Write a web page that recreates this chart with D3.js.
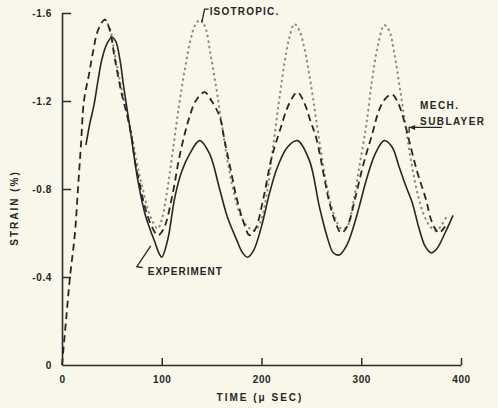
<!DOCTYPE html>
<html><head><meta charset="utf-8">
<script src="https://cdn.jsdelivr.net/npm/d3@7"></script>
<style>
body{margin:0;background:#f8f7ea;}
svg{display:block;}
text{font-family:"Liberation Sans",Arial,sans-serif;font-weight:bold;fill:#262626;}
</style></head>
<body><svg id="c" width="498" height="408"></svg>
<script>
// ---- data (time in µs, strain in %) ----
const expTime   = [24,28,32,36,40,45,50,54,58,62,66,70,76,83,88,93,97,100,106,113,120,128,138,148,158,166,175,181,186,192,200,208,216,226,236,248,258,266,272,278,285,291,298,305,314,323,331,338,345,351,358,364,370,376,384,392];
const expStrain = [-1.00,-1.10,-1.18,-1.29,-1.39,-1.46,-1.49,-1.47,-1.39,-1.26,-1.14,-1.02,-0.84,-0.69,-0.62,-0.56,-0.51,-0.49,-0.57,-0.76,-0.88,-0.96,-1.02,-0.96,-0.80,-0.67,-0.57,-0.51,-0.49,-0.52,-0.63,-0.78,-0.90,-0.99,-1.02,-0.93,-0.72,-0.58,-0.51,-0.50,-0.54,-0.61,-0.72,-0.84,-0.96,-1.02,-0.99,-0.90,-0.81,-0.74,-0.62,-0.54,-0.51,-0.53,-0.60,-0.68];

const mechTime   = [0,4,8,13,16,19,22,27,31,36,43,48,53,60,66,70,73,78,83,89,96,102,111,117,123,128,134,143,150,158,163,169,175,182,188,194,202,210,218,228,236,243,249,255,263,268,274,280,286,294,302,311,318,324,331,337,343,348,356,365,370,374,378,384];
const mechStrain = [0,-0.20,-0.40,-0.60,-0.80,-1.00,-1.20,-1.32,-1.42,-1.52,-1.57,-1.52,-1.39,-1.23,-1.12,-1.03,-0.93,-0.82,-0.72,-0.64,-0.59,-0.62,-0.78,-0.93,-1.05,-1.13,-1.20,-1.24,-1.20,-1.13,-1.02,-0.89,-0.76,-0.65,-0.59,-0.62,-0.76,-0.94,-1.06,-1.19,-1.24,-1.19,-1.11,-1.03,-0.85,-0.74,-0.65,-0.60,-0.63,-0.76,-0.91,-1.05,-1.16,-1.21,-1.23,-1.19,-1.11,-1.02,-0.88,-0.75,-0.66,-0.62,-0.60,-0.63];

// isotropic drawn from the first peak on (it lies under the dashed curve before that)
const isoTime   = [43,48,53,60,66,71,76,81,86,91,96,100,105,111,117,123,129,134,139,144,149,155,161,167,173,179,186,193,199,205,211,217,223,228,233,238,243,249,255,261,267,273,280,286,292,298,305,311,317,323,328,333,339,345,351,357,363,369,375,381,386];
const isoStrain = [-1.57,-1.53,-1.41,-1.25,-1.13,-1.02,-0.90,-0.80,-0.71,-0.65,-0.62,-0.66,-0.78,-0.97,-1.17,-1.34,-1.48,-1.55,-1.57,-1.53,-1.41,-1.25,-1.07,-0.90,-0.77,-0.68,-0.63,-0.61,-0.65,-0.77,-0.97,-1.18,-1.37,-1.49,-1.55,-1.52,-1.44,-1.29,-1.11,-0.93,-0.78,-0.68,-0.62,-0.63,-0.74,-0.90,-1.09,-1.30,-1.46,-1.545,-1.52,-1.42,-1.25,-1.07,-0.90,-0.77,-0.68,-0.63,-0.61,-0.64,-0.68];

const xTicks = [0,100,200,300,400];
const yTicks = [0,-0.4,-0.8,-1.2,-1.6];
const yTickLabels = ["0","-0.4","-0.8","-1.2","-1.6"];

// ---- chart ----
const svg = d3.select("#c");
const x = d3.scaleLinear().domain([0,400]).range([62,461]);
const y = d3.scaleLinear().domain([0,-1.6]).range([365,13]);

const ax = "#2b2b2b";
const gx = svg.append("g").attr("transform","translate(0,365)")
  .call(d3.axisBottom(x).tickValues(xTicks).tickSize(-7).tickSizeOuter(0).tickPadding(11).tickFormat(d=>String(d)));
const gy = svg.append("g").attr("transform","translate(62,0)")
  .call(d3.axisLeft(y).tickValues(yTicks).tickSize(-9).tickSizeOuter(0).tickPadding(10).tickFormat((d,i)=>yTickLabels[i]));
[gx,gy].forEach(g=>{
  g.select(".domain").attr("stroke",ax).attr("stroke-width",1.6);
  g.selectAll(".tick line").attr("stroke",ax).attr("stroke-width",1.5);
  g.selectAll(".tick text").attr("font-size",10).attr("font-family","Liberation Sans, Arial, sans-serif").attr("font-weight","bold").attr("fill","#333").attr("letter-spacing",0.6);
});
gy.selectAll(".tick").filter(d=>d===0).select("line").remove();
gx.selectAll(".tick").filter(d=>d===0).select("line").remove();

const line = d3.line().curve(d3.curveCatmullRom.alpha(0.5)).x(d=>x(d[0])).y(d=>y(d[1]));
const zip = (a,b)=>a.map((v,i)=>[v,b[i]]);

svg.append("path").datum(zip(isoTime,isoStrain)).attr("d",line)
  .attr("fill","none").attr("stroke","#8a8a86").attr("stroke-width",2.2)
  .attr("stroke-linecap","round").attr("stroke-dasharray","0.5,5");
svg.append("path").datum(zip(mechTime,mechStrain)).attr("d",line)
  .attr("fill","none").attr("stroke","#262626").attr("stroke-width",1.8)
  .attr("stroke-dasharray","7,4.5");
svg.append("path").datum(zip(expTime,expStrain)).attr("d",line)
  .attr("fill","none").attr("stroke","#262626").attr("stroke-width",1.6);

// ---- labels ----
svg.append("text").attr("x",260).attr("y",401).attr("text-anchor","middle")
  .attr("font-size",10).attr("letter-spacing",2).text("TIME (\u03BC SEC)");
svg.append("text").attr("transform","translate(18,208) rotate(-90)").attr("text-anchor","middle")
  .attr("font-size",10).attr("letter-spacing",2).text("STRAIN (%)");

// annotations
const ann = (t,s)=>[x(t),y(s)];
svg.append("text").attr("x",x(148)).attr("y",y(-1.605)+3.5).attr("font-size",10).attr("letter-spacing",1.2).text("ISOTROPIC.");
svg.append("path").attr("d",d3.line()([ann(140,-1.555),ann(143,-1.618),ann(147,-1.618)]))
  .attr("fill","none").attr("stroke","#262626").attr("stroke-width",1.3);

svg.append("text").attr("x",x(359)).attr("y",y(-1.18)+3.5).attr("font-size",10).attr("letter-spacing",1.4).text("MECH.");
svg.append("text").attr("x",x(359)).attr("y",y(-1.108)+3.5).attr("font-size",10).attr("letter-spacing",1.4).text("SUBLAYER");
svg.append("path").attr("d",d3.line()([ann(381,-1.08),ann(348,-1.08),ann(348,-1.055)]))
  .attr("fill","none").attr("stroke","#262626").attr("stroke-width",1.3);
const [ahx,ahy] = ann(348,-1.08);
svg.append("path").attr("d",`M${ahx},${ahy}l6,-2.5l0,5z`).attr("fill","#262626");

svg.append("text").attr("x",x(86)).attr("y",y(-0.427)+3.5).attr("font-size",10).attr("letter-spacing",1).text("EXPERIMENT");
svg.append("path").attr("d",d3.line()([ann(89,-0.541),ann(75,-0.447),ann(81,-0.443)]))
  .attr("fill","none").attr("stroke","#262626").attr("stroke-width",1.3);
</script></body></html>
